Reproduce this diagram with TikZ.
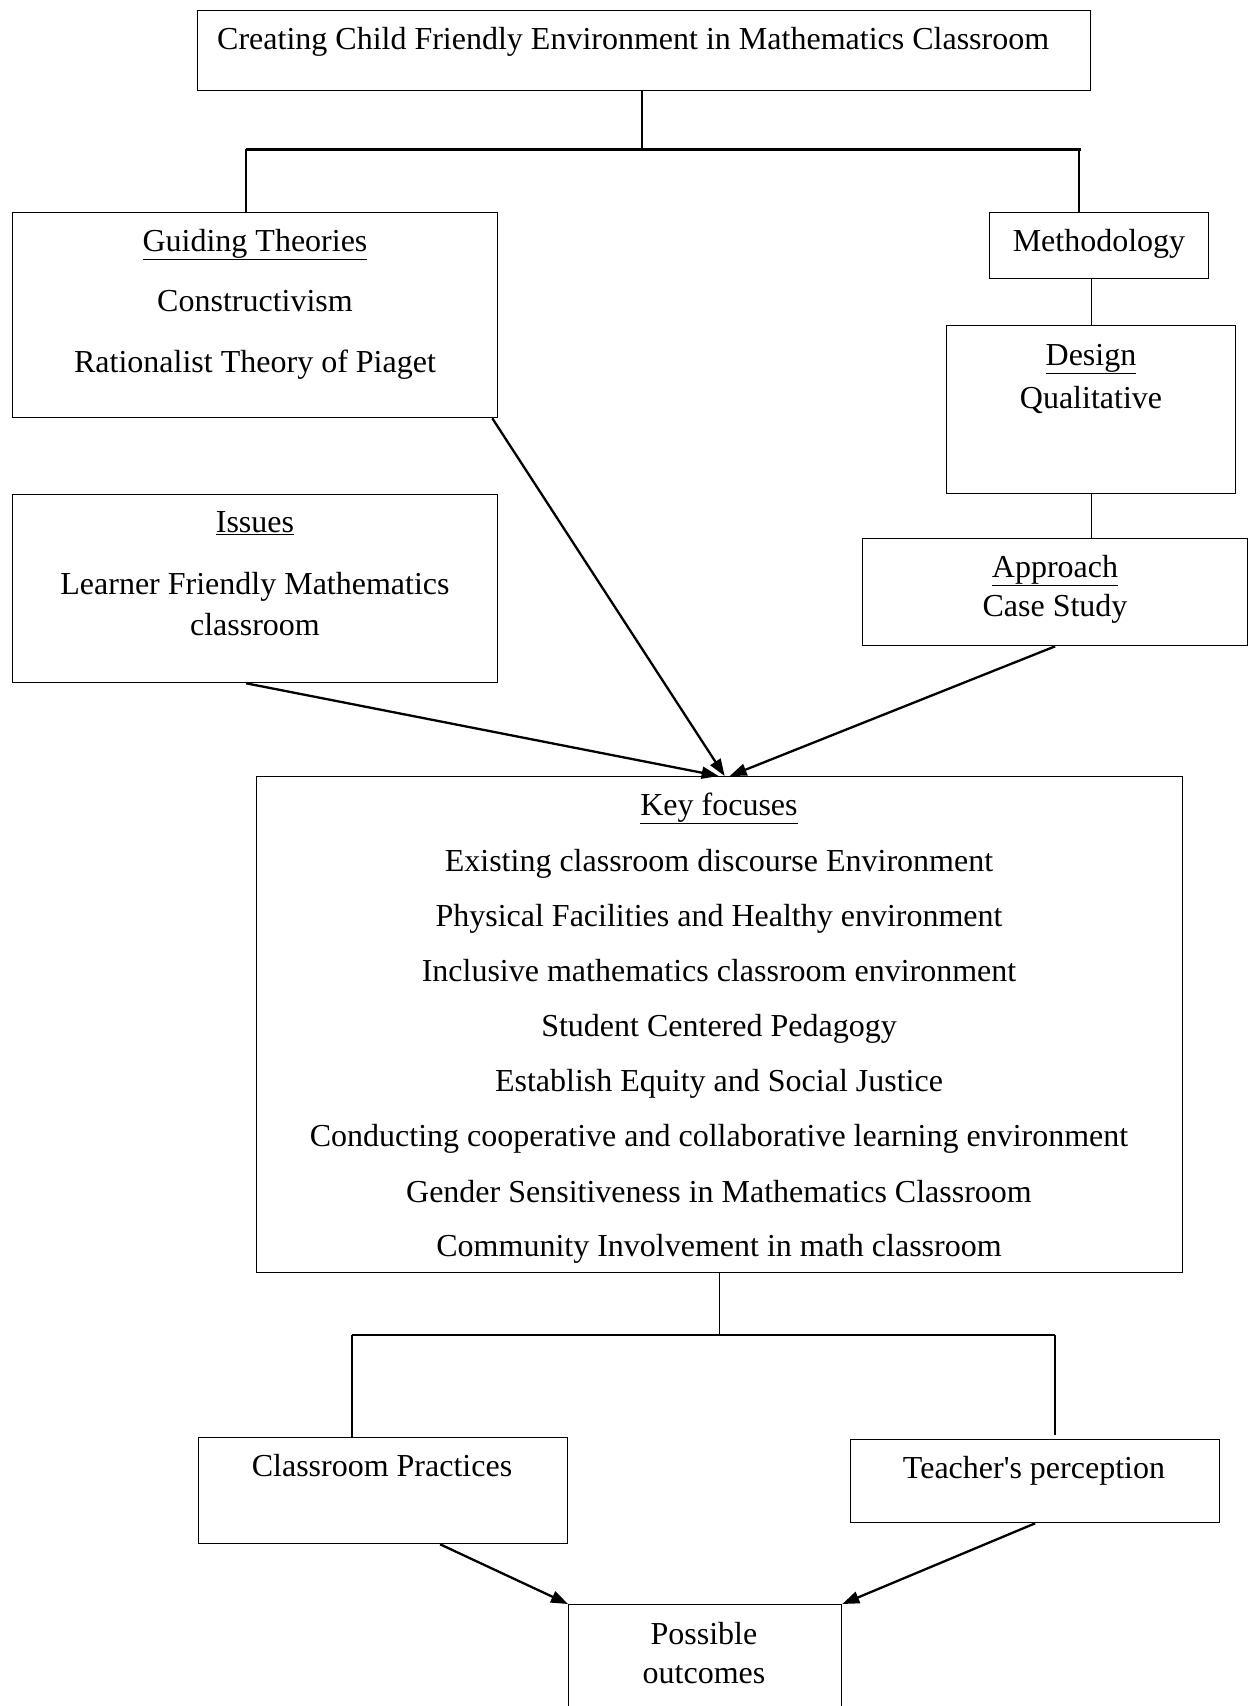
\documentclass[tikz,border=0pt]{standalone}
\usepackage{fontspec}
\setmainfont{Liberation Serif}[Ligatures=TeXOff]
\usetikzlibrary{arrows.meta,calc}
\begin{document}
\begin{tikzpicture}[x=1pt,y=-1pt,
  box/.style={draw,line width=1.3pt,inner sep=0pt,anchor=north west},
  lbl/.style={font=\fontsize{32}{38}\selectfont,inner sep=0pt,anchor=base},
  tree/.style={line width=1.2pt},
  arr/.style={line width=2.3pt,-{Triangle[length=17pt,width=12pt]}}]
\useasboundingbox (0,0) rectangle (1256,1706);
% boxes
\node[box,minimum width=893pt,minimum height=80pt] (title) at (197,10) {};
\node[box,minimum width=485pt,minimum height=205pt] (gt) at (12,212) {};
\node[box,minimum width=219pt,minimum height=66pt] (meth) at (989,212) {};
\node[box,minimum width=289pt,minimum height=168pt] (des) at (946,325) {};
\node[box,minimum width=385pt,minimum height=107pt] (appr) at (862,538) {};
\node[box,minimum width=485pt,minimum height=188pt] (iss) at (12,494) {};
\node[box,minimum width=926pt,minimum height=496pt] (kf) at (256,776) {};
\node[box,minimum width=369pt,minimum height=106pt] (cp) at (198,1437) {};
\node[box,minimum width=369pt,minimum height=83pt] (tp) at (850,1439) {};
\node[box,minimum width=273pt,minimum height=120pt] (po) at (568,1604) {};
% texts
\node[lbl,anchor=base west] (t0) at (217,49) {Creating Child Friendly Environment in Mathematics Classroom};
\node[lbl] (t1) at (255,251) {\underline{Guiding Theories}};
\node[lbl] (t2) at (255,311) {Constructivism};
\node[lbl] (t3) at (255,372) {Rationalist Theory of Piaget};
\node[lbl] (t4) at (1099,251) {Methodology};
\node[lbl] (t5) at (1091,365) {\underline{Design}};
\node[lbl] (t6) at (1091,408) {Qualitative};
\node[lbl] (t7) at (1055,577) {\underline{Approach}};
\node[lbl] (t8) at (1055,616) {Case Study};
\node[lbl] (t9) at (255,532) {\underline{Issues}};
\node[lbl] (t10) at (255,594) {Learner Friendly Mathematics};
\node[lbl] (t11) at (255,635) {classroom};
\node[lbl] (k0) at (719,815) {\underline{Key focuses}};
\node[lbl] (k1) at (719,871) {Existing classroom discourse Environment};
\node[lbl] (k2) at (719,926) {Physical Facilities and Healthy environment};
\node[lbl] (k3) at (719,981) {Inclusive mathematics classroom environment};
\node[lbl] (k4) at (719,1036) {Student Centered Pedagogy};
\node[lbl] (k5) at (719,1091) {Establish Equity and Social Justice};
\node[lbl] (k6) at (719,1146) {Conducting cooperative and collaborative learning environment};
\node[lbl] (k7) at (719,1202) {Gender Sensitiveness in Mathematics Classroom};
\node[lbl] (k8) at (719,1256) {Community Involvement in math classroom};
\node[lbl] (b1) at (382,1476) {Classroom Practices};
\node[lbl] (b2) at (1034,1478) {Teacher's perception};
\node[lbl] (b3) at (704,1644) {Possible};
\node[lbl] (b4) at (704,1683) {outcomes};
% tree connectors (top)
\coordinate (jt) at (642,149);
\coordinate (jl) at (246,149);
\coordinate (jr) at (1081,149);
\coordinate (jr2) at (1079,149);
\draw[tree] (title.south -| jt) -- (jt);
\draw[line width=3pt] (jl) -- (jr);
\draw[tree] (jl) -- (jl |- gt.north);
\draw[tree] (jr2) -- (jr2 |- meth.north);
\draw[tree] (des.north |- meth.south) -- (des.north);
\draw[tree] (des.south) -- (des.south |- appr.north);
% arrows into key focuses
\draw[arr] ($(gt.south east)+(-6,0)$) -- ($(kf.north)+(5,0)$);
\draw[arr] ($(iss.south)+(-9,0)$) -- ($(kf.north)+(-1,0)$);
\draw[arr] (appr.south) -- ($(kf.north)+(10,0)$);
% tree connectors (bottom)
\coordinate (bl) at (352,1335);
\coordinate (br) at (1055,1335);
\draw[tree] (kf.south) -- (kf.south |- bl);
\draw[tree] (bl) -- (br);
\draw[tree] (bl) -- (bl |- cp.north);
\draw[tree] (br) -- ($(br |- tp.north)+(0,-4)$);
% arrows into outcomes
\draw[arr] ($(cp.south)+(57,0)$) -- (po.north west);
\draw[arr] (tp.south) -- (po.north east);
\end{tikzpicture}
\end{document}
